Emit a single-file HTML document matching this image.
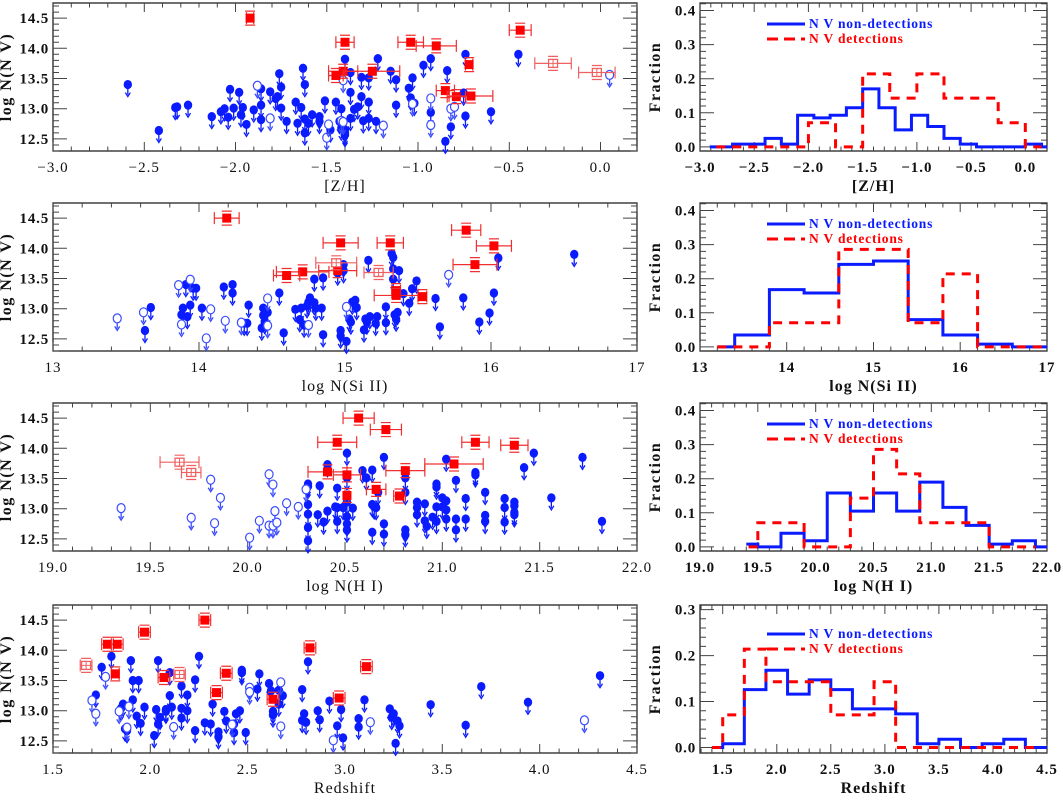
<!DOCTYPE html>
<html><head><meta charset="utf-8"><style>
html,body{margin:0;padding:0;background:#fff;}
svg text{font-family:"Liberation Serif",serif;}
</style></head><body>
<svg id="fig" width="1063" height="797" viewBox="0 0 1063 797" xmlns="http://www.w3.org/2000/svg"></svg>
<script>
// ---------- Panel 1 data ([Z/H]) ----------
const p1BlueX=[-2.59,-2.42,-2.33,-2.32,-2.26,-2.13,-2.08,-2.06,-2.04,-2.03,-2.01,-1.98,-1.97,-1.96,-1.94,-1.90,-1.86,-1.86,-1.86,-1.81,-1.78,-1.77,-1.76,-1.75,-1.75,-1.72,-1.67,-1.66,-1.64,-1.63,-1.62,-1.62,-1.62,-1.60,-1.58,-1.54,-1.54,-1.51,-1.48,-1.45,-1.43,-1.42,-1.42,-1.40,-1.40,-1.40,-1.40,-1.37,-1.37,-1.37,-1.35,-1.33,-1.31,-1.31,-1.30,-1.27,-1.27,-1.27,-1.23,-1.22,-1.15,-1.12,-1.12,-1.05,-1.04,-1.03,-1.02,-0.97,-0.93,-0.93,-0.85,-0.84,-0.82,-0.75,-0.74,-0.74,-0.60,-0.45];
const p1BlueY=[13.40,12.64,13.02,13.03,13.06,12.87,12.95,13.00,12.86,13.32,13.01,13.27,12.90,13.02,12.74,12.98,13.33,13.06,12.82,13.28,13.17,13.20,13.58,13.36,13.01,12.79,13.11,12.76,13.02,13.67,13.40,12.83,12.60,12.76,12.90,12.79,12.87,13.13,12.65,13.11,12.79,13.00,12.68,12.60,13.82,12.65,12.57,12.84,13.60,13.27,12.99,13.03,13.52,13.20,12.80,13.11,13.51,12.84,12.79,13.83,13.62,13.48,13.06,13.34,13.18,13.51,13.09,13.72,13.83,12.94,12.46,13.63,12.70,13.26,13.90,12.88,12.95,13.90];
const p1OpenX=[-1.88,-1.81,-1.50,-1.49,-1.41,-1.42,-1.41,-1.19,-0.93,-0.93,-1.03,-0.82,-0.80,0.05];
const p1OpenY=[13.38,12.84,12.52,12.74,13.47,12.80,12.78,12.72,13.17,12.73,13.08,13.00,13.03,13.56];
const p1DetX=[-1.92,-1.40,-1.04,-0.90,-0.44,-0.72,-1.41,-1.45,-1.25,-0.85,-0.79,-0.71];
const p1DetY=[14.50,14.10,14.10,14.04,14.30,13.73,13.62,13.55,13.62,13.30,13.20,13.21];
const p1DetErr=[0.02,0.05,0.07,0.11,0.06,0.02,0.08,0.04,0.15,0.05,0.05,0.12];
const p1DetOpenX=[-0.26,-0.02];
const p1DetOpenY=[13.75,13.60];
const p1DetOpenErr=[0.10,0.10];
const h1BlueEdges=[-2.91,-2.85,-2.7,-2.55,-2.4,-2.25,-2.1,-1.95,-1.8,-1.65,-1.5,-1.35,-1.2,-1.05,-0.9,-0.75,-0.6,-0.45,0.0,0.15,0.2];
const h1BlueVals=[0,0,0.008,0.008,0.025,0.008,0.093,0.085,0.093,0.115,0.17,0.115,0.05,0.093,0.06,0.025,0.008,0,0.008,0];
const h1RedEdges=[-2.85,-2.0,-1.75,-1.5,-1.25,-1.0,-0.75,-0.25,0.0,0.15];
const h1RedVals=[0,0.071,0,0.214,0.143,0.214,0.143,0.071,0];

// ---------- Panel 2 data (log N(Si II)) ----------
const p2BlueX=[13.63,13.67,13.89,13.88,13.92,13.91,13.94,13.96,13.98,14.02,14.17,14.23,14.23,14.34,14.31,14.33,14.43,14.44,14.44,14.45,14.47,14.55,14.58,14.66,14.69,14.70,14.72,14.74,14.75,14.76,14.79,14.79,14.80,14.84,14.85,14.85,14.95,14.97,14.97,14.99,14.99,15.01,15.03,15.04,15.05,15.07,15.08,15.13,15.14,15.15,15.16,15.17,15.21,15.22,15.28,15.28,15.32,15.33,15.33,15.33,15.34,15.35,15.36,15.37,15.40,15.44,15.46,15.49,15.62,15.65,15.81,15.92,15.99,16.02,16.05,16.57];
const p2BlueY=[12.64,13.02,13.01,12.90,12.87,13.40,13.06,13.34,13.34,13.01,13.36,13.40,13.26,13.06,12.76,12.76,12.68,13.01,12.89,12.79,12.94,13.26,12.60,12.99,12.82,13.01,12.73,13.05,13.11,13.18,13.49,13.10,13.01,13.01,13.51,12.57,13.59,12.64,12.55,13.73,13.63,12.46,12.83,12.78,13.11,13.14,13.02,12.65,12.83,12.78,13.80,12.87,12.76,12.87,13.03,12.77,13.91,13.85,13.66,13.49,12.90,12.83,12.94,13.63,13.25,13.09,13.33,13.46,13.17,12.70,13.18,12.78,12.93,13.26,13.84,13.90];
const p2OpenX=[13.44,13.62,13.86,13.88,13.94,14.05,14.08,14.18,14.29,14.47,14.47,14.75,15.01,15.71];
const p2OpenY=[12.84,12.94,13.39,12.74,13.48,12.51,12.99,12.80,12.77,12.72,13.17,12.73,13.03,13.56];
const p2DetX=[14.19,14.97,15.31,15.83,16.02,15.89,14.71,14.60,14.95,15.35,15.35,15.53];
const p2DetY=[14.50,14.09,14.09,14.30,14.04,13.73,13.61,13.55,13.63,13.30,13.22,13.20];
const p2DetErr=[0.085,0.12,0.09,0.10,0.12,0.15,0.18,0.09,0.13,0.03,0.15,0.03];
const p2DetOpenX=[14.94,15.23];
const p2DetOpenY=[13.76,13.60];
const p2DetOpenErr=[0.14,0.10];
const h2BlueEdges=[13.2,13.4,13.8,14.2,14.6,15.0,15.4,15.8,16.2,16.6,17];
const h2BlueVals=[0,0.035,0.168,0.158,0.242,0.252,0.08,0.035,0.008,0];
const h2RedEdges=[13.2,13.8,14.6,15.4,15.8,16.2,17];
const h2RedVals=[0,0.071,0.286,0.071,0.214,0];

// ---------- Panel 3 data (log N(H I)) ----------
const p3BlueX=[20.31,20.31,20.31,20.31,20.31,20.31,20.36,20.37,20.39,20.41,20.41,20.45,20.46,20.46,20.46,20.49,20.51,20.51,20.51,20.51,20.51,20.51,20.54,20.59,20.61,20.64,20.64,20.64,20.65,20.66,20.67,20.70,20.70,20.70,20.81,20.81,20.81,20.81,20.87,20.87,20.87,20.91,20.91,20.92,20.95,20.97,20.97,20.97,20.97,21.00,21.00,21.02,21.02,21.02,21.02,21.07,21.07,21.07,21.12,21.12,21.17,21.17,21.22,21.22,21.22,21.32,21.32,21.32,21.37,21.37,21.37,21.37,21.42,21.47,21.56,21.72,21.82];
const p3BlueY=[13.41,13.37,13.07,12.91,12.69,12.47,12.90,13.38,12.78,13.73,12.96,13.03,13.34,12.79,13.02,13.02,13.92,13.51,13.11,12.87,12.75,12.65,13.01,13.63,13.51,13.64,13.07,12.61,13.03,13.02,13.27,13.85,12.75,12.58,13.51,13.27,12.65,12.57,13.11,13.02,12.90,13.08,12.80,12.71,12.86,13.41,13.36,13.03,12.79,13.18,13.03,13.13,12.98,12.83,13.82,13.47,12.83,12.65,13.17,12.83,13.60,13.56,13.27,12.89,12.79,13.17,13.02,12.78,13.11,13.05,12.94,12.90,13.68,13.92,13.18,13.85,12.79];
const p3OpenX=[19.35,19.71,19.81,19.83,19.86,20.01,20.06,20.11,20.11,20.13,20.13,20.14,20.15,20.20,20.26,20.30];
const p3OpenY=[13.01,12.85,13.48,12.76,13.18,12.52,12.80,13.57,12.72,13.40,12.72,12.96,12.77,13.09,13.03,13.32];
const p3DetX=[20.57,20.71,20.46,21.17,21.37,21.06,20.41,20.81,20.51,20.66,20.78,20.51];
const p3DetY=[14.50,14.31,14.10,14.10,14.05,13.74,13.61,13.63,13.56,13.32,13.21,13.22];
const p3DetErr=[0.08,0.08,0.10,0.07,0.07,0.15,0.10,0.10,0.07,0.05,0.03,0.01];
const p3DetOpenX=[19.65,19.71];
const p3DetOpenY=[13.77,13.60];
const p3DetOpenErr=[0.10,0.05];
const h3BlueEdges=[19.4,19.5,19.7,19.9,20.1,20.3,20.5,20.7,20.9,21.1,21.3,21.5,21.7,21.9,22];
const h3BlueVals=[0.008,0,0.04,0.018,0.158,0.105,0.158,0.105,0.19,0.116,0.063,0.008,0.018,0];
const h3RedEdges=[19.42,19.5,19.9,20.3,20.5,20.7,20.9,21.5,21.9];
const h3RedVals=[0,0.071,0,0.143,0.286,0.214,0.071,0];

// ---------- Panel 4 data (Redshift) ----------
const p4BlueX=[1.80,1.90,2.04,2.25,2.81,1.75,2.10,2.47,2.47,2.56,2.23,1.91,1.94,2.16,2.61,2.55,2.62,2.66,2.78,3.70,1.72,2.10,2.19,1.91,2.92,3.10,2.68,2.66,2.32,3.44,3.94,4.31,1.86,1.85,1.97,2.03,2.08,2.11,2.08,2.16,2.19,2.38,2.46,2.44,2.63,2.63,2.86,2.98,3.23,3.25,3.24,3.27,3.28,3.07,3.07,1.93,1.95,2.05,2.04,2.16,2.28,2.31,2.39,2.43,2.78,2.80,2.79,2.87,1.87,1.88,2.02,2.23,2.35,2.35,2.43,2.49,2.96,2.99,3.26,3.62];
const p4BlueY=[13.90,13.83,13.83,13.90,13.81,13.72,13.63,13.67,13.63,13.61,13.51,13.50,13.50,13.41,13.45,13.36,13.33,13.34,13.35,13.40,13.26,13.25,13.26,13.18,13.16,13.18,13.25,13.11,13.11,13.10,13.14,13.58,13.11,13.04,13.06,13.02,13.02,13.06,12.99,13.04,13.00,12.99,13.00,12.95,12.99,12.93,13.00,13.02,13.03,12.95,12.89,12.83,12.75,12.87,12.73,12.91,12.79,12.89,12.78,12.88,12.80,12.78,12.83,12.78,12.84,12.81,12.95,12.85,12.70,12.67,12.59,12.67,12.65,12.57,12.64,12.64,12.75,12.55,12.46,12.76];
const p4OpenX=[1.70,1.72,1.77,1.84,1.88,1.89,2.12,2.42,2.51,2.51,2.67,2.67,2.94,3.13,4.23];
const p4OpenY=[13.17,12.95,13.56,12.99,12.72,13.07,12.73,12.77,13.38,13.31,12.74,13.47,12.51,12.81,12.84];
const p4DetX=[2.28,1.97,1.78,1.83,2.82,3.11,1.82,2.39,2.07,2.34,2.63,2.97];
const p4DetY=[14.50,14.30,14.10,14.10,14.04,13.73,13.61,13.62,13.55,13.30,13.19,13.21];
const p4DetErr=[0.03,0.03,0.03,0.03,0.03,0.03,0.02,0.03,0.03,0.03,0.03,0.03];
const p4DetOpenX=[1.67,2.15];
const p4DetOpenY=[13.75,13.60];
const p4DetOpenErr=[0.03,0.03];
const h4BlueEdges=[1.4,1.5,1.7,1.9,2.1,2.3,2.5,2.7,3.1,3.3,3.5,3.7,3.9,4.1,4.3,4.5];
const h4BlueVals=[0,0.008,0.126,0.168,0.116,0.147,0.126,0.084,0.073,0.008,0.018,0,0.008,0.018,0];
const h4RedEdges=[1.4,1.5,1.7,1.9,2.5,2.9,3.1,4.4];
const h4RedVals=[0,0.071,0.214,0.143,0.071,0.143,0];

// tick label arrays
const xt1=[-3.0,-2.5,-2.0,-1.5,-1.0,-0.5,0.0];
const xt2=[13,14,15,16,17];
const xt3=[19.0,19.5,20.0,20.5,21.0,21.5,22.0];
const xt4=[1.5,2.0,2.5,3.0,3.5,4.0,4.5];
const ytLeft=[12.5,13.0,13.5,14.0,14.5];
const ytHist=[0.0,0.1,0.2,0.3,0.4];
const ytHist4=[0.0,0.1,0.2,0.3];

const NS="http://www.w3.org/2000/svg";
const svg=document.getElementById('fig');
function mk(tag,attrs,parent){const e=document.createElementNS(NS,tag);for(const k in attrs)e.setAttribute(k,attrs[k]);(parent||svg).appendChild(e);return e;}
function fmt(v,d){let s=v.toFixed(d);return s.replace('-','\u2212');}

const BLUE='#0a1cff', RED='#ff0000';
const tops=[3,203,403,605], H=148;
const L={x0:53,x1:637}, R={x0:700,x1:1047};

function axes(g,box,xr,yr,xmaj,xmin,ymaj,ymin,xticks,xdec,yticks,ydec,xtitle,ytitle,bold){
  const sx=v=>box.x0+(v-xr[0])/(xr[1]-xr[0])*(box.x1-box.x0);
  const sy=v=>box.y1-(v-yr[0])/(yr[1]-yr[0])*(box.y1-box.y0);
  const frame=mk('rect',{x:box.x0,y:box.y0,width:box.x1-box.x0,height:box.y1-box.y0,fill:'none',stroke:'#222','stroke-width':1.3},g);
  
  
  let d='';
  const eps=1e-6;
  for(let v=Math.ceil((xr[0]-eps)/xmin)*xmin; v<=xr[1]+eps; v+=xmin){
    const maj=Math.abs(v/xmaj-Math.round(v/xmaj))<1e-4; const l=maj?9:4.5; const x=sx(v).toFixed(1);
    d+=`M${x} ${box.y1}v${-l}M${x} ${box.y0}v${l}`;
  }
  for(let v=Math.ceil((yr[0]-eps)/ymin)*ymin; v<=yr[1]+eps; v+=ymin){
    const maj=Math.abs(v/ymaj-Math.round(v/ymaj))<1e-4; const l=maj?14:6; const y=sy(v).toFixed(1);
    d+=`M${box.x0} ${y}h${l}M${box.x1} ${y}h${-l}`;
  }
  const t=mk('path',{d:d,stroke:'#444','stroke-width':1,fill:'none'},g);
  
  
  xticks.forEach(v=>{const e=mk('text',{x:sx(v),y:box.y1+21,'text-anchor':'middle','font-size':15,'letter-spacing':1,'font-weight':bold?'bold':'normal',fill:'#111'},g);e.textContent=fmt(v,xdec);
    
    });
  yticks.forEach(v=>{const e=mk('text',{x:box.x0-4,y:sy(v)+5,'text-anchor':'end','font-size':15,'letter-spacing':0.8,'font-weight':'bold',fill:'#111'},g);e.textContent=fmt(v,ydec);
    
    });
  const xt=mk('text',{x:(box.x0+box.x1)/2,y:box.y1+40,'text-anchor':'middle','font-size':16,'letter-spacing':1,fill:'#111','font-weight':bold?'bold':'normal'},g);xt.textContent=xtitle;
  
  
  const cy=(box.y0+box.y1)/2, cx=box.x0-(bold?40:42);
  const yt=mk('text',{x:cx,y:cy,'text-anchor':'middle','font-size':16,'letter-spacing':1.5,'font-weight':'bold',fill:'#111',transform:`rotate(-90 ${cx} ${cy})`},g);yt.textContent=ytitle;
  
  
  return {sx,sy};
}

function scatter(i,xr,xmaj,xmin,xticks,xdec,xtitle,bx,by,ox,oy,dx,dy,de,qx,qy,qe){
  const g=mk('g',{});
  
  
  const box={x0:L.x0,x1:L.x1,y0:tops[i],y1:tops[i]+H};
  const {sx,sy}=axes(g,box,xr,[12.3,14.75],xmaj,xmin,0.5,0.1,xticks,xdec,ytLeft,1,xtitle,'log N(N V)',false);
  function arrow(x,y,col){
    mk('path',{d:`M${x} ${y+3}V${y+10}M${x-2.5} ${y+8}L${x} ${y+12}L${x+2.5} ${y+8}`,stroke:col,'stroke-width':1.3,fill:'none'},g);
  }
  for(let k=0;k<bx.length;k++){const x=sx(bx[k]),y=sy(by[k]);
    arrow(x,y,BLUE);
    const c=mk('ellipse',{cx:x,cy:y,rx:4.2,ry:4.6,fill:BLUE},g);
    
    }
  for(let k=0;k<ox.length;k++){const x=sx(ox[k]),y=sy(oy[k]);
    arrow(x,y,'#3a4cff');
    const c=mk('ellipse',{cx:x,cy:y,rx:4,ry:4.5,fill:'#fff',stroke:'#3a4cff','stroke-width':1.2},g);
    
    }
  function err(x,y,e,col){const a=sx(x-e),b=sx(x+e),yy=sy(y);
    mk('path',{d:`M${a} ${yy}H${b}M${a} ${yy-6}v12M${b} ${yy-6}v12M${sx(x)-5} ${yy-7}h10M${sx(x)-5} ${yy+7}h10`,stroke:col,'stroke-width':1.2,fill:'none'},g);}
  for(let k=0;k<dx.length;k++){err(dx[k],dy[k],de[k],'#f03030');
    const r=mk('rect',{x:sx(dx[k])-4.5,y:sy(dy[k])-4.5,width:9,height:9,fill:RED},g);
    
    }
  for(let k=0;k<qx.length;k++){err(qx[k],qy[k],qe[k],'#f06060');const x=sx(qx[k]),y=sy(qy[k]);
    const r=mk('rect',{x:x-4.5,y:y-4,width:9,height:8,fill:'#fff',stroke:'#f06060','stroke-width':1.3},g);
    
    
    mk('path',{d:`M${x-4.5} ${y}h9M${x} ${y-4}v8`,stroke:'#f06060','stroke-width':1},g);}
}

function hist(i,xr,yr,xmaj,xmin,xticks,xdec,yticks,xtitle,be,bv,re,rv){
  const g=mk('g',{});
  
  
  const box={x0:R.x0,x1:R.x1,y0:tops[i],y1:tops[i]+H};
  const {sx,sy}=axes(g,box,xr,yr,xmaj,xmin,0.1,0.02,xticks,xdec,yticks,1,xtitle,'Fraction',true);
  function step(e,v){let d=`M${sx(e[0])} ${sy(v[0])}`;for(let k=0;k<v.length;k++){d+=`V${sy(v[k])}H${sx(e[k+1])}`;}return d;}
  const b=mk('path',{d:step(be,bv),stroke:BLUE,'stroke-width':3,fill:'none'},g);
  
  
  const r=mk('path',{d:step(re,rv),stroke:RED,'stroke-width':3,fill:'none','stroke-dasharray':'9,7'},g);
  
  
  const ly=tops[i]+(i==3?29:21);
  const l1=mk('line',{x1:767,x2:805,y1:ly,y2:ly,stroke:BLUE,'stroke-width':3},g);
  
  
  const t1=mk('text',{x:809,y:ly+4,'font-size':13.5,'letter-spacing':0.8,'font-weight':'bold',fill:BLUE},g);t1.textContent='N V non-detections';
  
  
  const l2=mk('line',{x1:767,x2:805,y1:ly+15,y2:ly+15,stroke:RED,'stroke-width':3,'stroke-dasharray':'11,6'},g);
  
  
  const t2=mk('text',{x:809,y:ly+19,'font-size':13.5,'letter-spacing':0.8,'font-weight':'bold',fill:RED},g);t2.textContent='N V detections';
  
  
}

scatter(0,[-3.0,0.2],0.5,0.1,xt1,1,'[Z/H]',p1BlueX,p1BlueY,p1OpenX,p1OpenY,p1DetX,p1DetY,p1DetErr,p1DetOpenX,p1DetOpenY,p1DetOpenErr);
scatter(1,[13,17],1,0.2,xt2,0,'log N(Si II)',p2BlueX,p2BlueY,p2OpenX,p2OpenY,p2DetX,p2DetY,p2DetErr,p2DetOpenX,p2DetOpenY,p2DetOpenErr);
scatter(2,[19,22],0.5,0.1,xt3,1,'log N(H I)',p3BlueX,p3BlueY,p3OpenX,p3OpenY,p3DetX,p3DetY,p3DetErr,p3DetOpenX,p3DetOpenY,p3DetOpenErr);
scatter(3,[1.5,4.5],0.5,0.1,xt4,1,'Redshift',p4BlueX,p4BlueY,p4OpenX,p4OpenY,p4DetX,p4DetY,p4DetErr,p4DetOpenX,p4DetOpenY,p4DetOpenErr);
hist(0,[-3.0,0.2],[-0.012,0.422],0.5,0.1,xt1,1,ytHist,'[Z/H]',h1BlueEdges,h1BlueVals,h1RedEdges,h1RedVals);
hist(1,[13,17],[-0.012,0.422],1,0.2,xt2,0,ytHist,'log N(Si II)',h2BlueEdges,h2BlueVals,h2RedEdges,h2RedVals);
hist(2,[19,22],[-0.012,0.422],0.5,0.1,xt3,1,ytHist,'log N(H I)',h3BlueEdges,h3BlueVals,h3RedEdges,h3RedVals);
hist(3,[1.29,4.5],[-0.012,0.31],0.5,0.1,xt4,1,ytHist4,'Redshift',h4BlueEdges,h4BlueVals,h4RedEdges,h4RedVals);
</script>
</body></html>
